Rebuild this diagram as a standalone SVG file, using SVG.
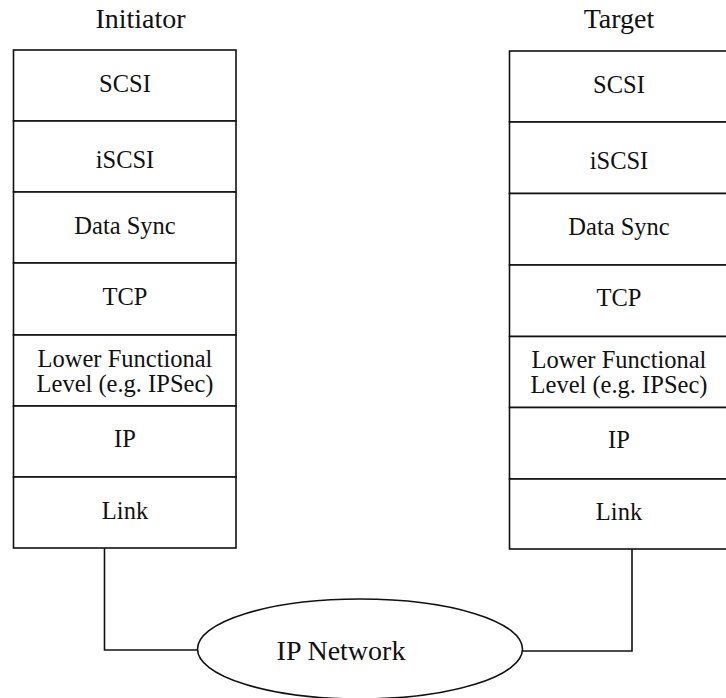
<svg xmlns="http://www.w3.org/2000/svg" width="726" height="698" viewBox="0 0 726 698">
  <style>
    .box { fill: #ffffff; stroke: #111111; stroke-width: 1.6; }
    .wire { fill: none; stroke: #111111; stroke-width: 1.6; }
    text { fill: #111111; text-anchor: middle; }
    .lbl { font-size: 24.5px; }
    .title { font-size: 28px; }
  </style>
  <rect width="726" height="698" fill="#ffffff"/>

  <!-- connectors from each Link layer to the network cloud -->
  <g id="connectors">
    <polyline class="wire" points="104.5,548 104.5,650 197.5,650"/>
    <polyline class="wire" points="632,549 632,651 522.5,651"/>
  </g>

  <g font-family="'Liberation Serif', 'DejaVu Serif', serif">
  <!-- initiator protocol stack -->
  <g id="initiator">
    <text class="title" x="140.5" y="28">Initiator</text>
    <g id="i-scsi"><rect class="box" x="13.5" y="50" width="222.5" height="71"/><text class="lbl" x="125" y="92">SCSI</text></g>
    <g id="i-iscsi"><rect class="box" x="13.5" y="121" width="222.5" height="71"/><text class="lbl" x="125" y="168">iSCSI</text></g>
    <g id="i-datasync"><rect class="box" x="13.5" y="192" width="222.5" height="71"/><text class="lbl" x="125" y="234">Data Sync</text></g>
    <g id="i-tcp"><rect class="box" x="13.5" y="263" width="222.5" height="72"/><text class="lbl" x="125" y="305">TCP</text></g>
    <g id="i-lower"><rect class="box" x="13.5" y="335" width="222.5" height="71"/><text class="lbl" x="125" y="367">Lower Functional</text><text class="lbl" x="125" y="392">Level (e.g. IPSec)</text></g>
    <g id="i-ip"><rect class="box" x="13.5" y="406" width="222.5" height="71"/><text class="lbl" x="125" y="447">IP</text></g>
    <g id="i-link"><rect class="box" x="13.5" y="477" width="222.5" height="71"/><text class="lbl" x="125" y="519">Link</text></g>
  </g>

  <!-- target protocol stack (runs off the right edge) -->
  <g id="target">
    <text class="title" x="619" y="28">Target</text>
    <g id="t-scsi"><rect class="box" x="509.5" y="51" width="222" height="71"/><text class="lbl" x="619" y="93">SCSI</text></g>
    <g id="t-iscsi"><rect class="box" x="509.5" y="122" width="222" height="71.5"/><text class="lbl" x="619" y="169">iSCSI</text></g>
    <g id="t-datasync"><rect class="box" x="509.5" y="193.5" width="222" height="71.5"/><text class="lbl" x="619" y="235">Data Sync</text></g>
    <g id="t-tcp"><rect class="box" x="509.5" y="265" width="222" height="71.5"/><text class="lbl" x="619" y="306">TCP</text></g>
    <g id="t-lower"><rect class="box" x="509.5" y="336.5" width="222" height="71"/><text class="lbl" x="619" y="368">Lower Functional</text><text class="lbl" x="619" y="393">Level (e.g. IPSec)</text></g>
    <g id="t-ip"><rect class="box" x="509.5" y="407.5" width="222" height="71.5"/><text class="lbl" x="619" y="448">IP</text></g>
    <g id="t-link"><rect class="box" x="509.5" y="479" width="222" height="70"/><text class="lbl" x="619" y="520">Link</text></g>
  </g>

  <!-- IP network cloud -->
  <g id="network">
    <ellipse class="box" cx="360" cy="649" rx="162.5" ry="50"/>
    <text class="title" x="341" y="660">IP Network</text>
  </g>
  </g>
</svg>
